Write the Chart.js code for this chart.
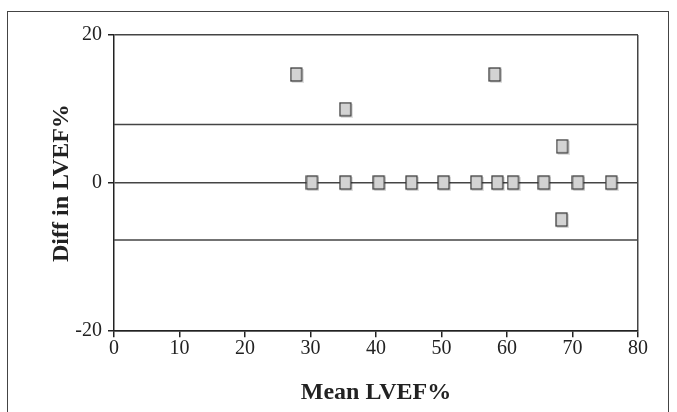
<!DOCTYPE html>
<html>
<head>
<meta charset="utf-8">
<script src="https://cdn.jsdelivr.net/npm/chart.js@4/dist/chart.umd.min.js"></script>
<style>
    html, body { margin: 0; padding: 0; background: #fff; }
    #wrap { position: relative; width: 677px; height: 412px; overflow: hidden; }
    #frame {
        position: absolute; left: 7px; top: 11px; width: 662px; height: 420px;
        border-left: 1.5px solid #444; border-top: 1.5px solid #444; border-right: 1.5px solid #444;
        box-sizing: border-box;
    }
    #chart { position: absolute; left: 0; top: 0; }
</style>
</head>
<body>
<div id="wrap">
    <div id="frame"></div>
    <canvas id="chart" width="677" height="412"></canvas>
</div>
<script>
// Bland-Altman data
var meanLvef = [27.9, 35.4, 58.2, 68.5, 68.4, 30.3, 35.4, 40.5, 45.5, 50.4, 55.4, 58.6, 61.0, 65.7, 70.9, 76.0];
var diffLvef = [14.6, 9.9, 14.6, 4.9, -5.0, 0, 0, 0, 0, 0, 0, 0, 0, 0, 0, 0];

// limits of agreement
var upperLimit = 7.9;
var lowerLimit = -7.7;

var xTicks = [0, 10, 20, 30, 40, 50, 60, 70, 80];
var yTicks = [-20, 0, 20];

var lineColor = '#444';
var serif = "'Liberation Serif', 'Times New Roman', serif";

// marker: light grey box with dark edge, a bit taller than wide
function makeMarker() {
    var c = document.createElement('canvas');
    c.width = 14;
    c.height = 16;
    var g = c.getContext('2d');
    g.fillStyle = 'rgba(0,0,0,0.12)';
    g.fillRect(2, 2, 12, 14);
    g.fillStyle = '#d3d3d3';
    g.fillRect(1, 1, 11, 13);
    g.strokeStyle = '#333';
    g.lineWidth = 1.2;
    g.strokeRect(1, 1, 11, 13);
    return c;
}

var points = meanLvef.map(function (m, i) {
    return { x: m, y: diffLvef[i] };
});

var ctx = document.getElementById('chart');

new Chart(ctx, {
    type: 'scatter',
    data: {
        datasets: [{
            label: 'Diff',
            data: points,
            pointStyle: makeMarker(),
            pointRadius: 7,
            order: 0
        }, {
            type: 'line',
            label: 'Upper',
            data: [{ x: xTicks[0], y: upperLimit }, { x: xTicks[xTicks.length - 1], y: upperLimit }],
            borderColor: lineColor,
            borderWidth: 1.5,
            pointRadius: 0,
            order: 1
        }, {
            type: 'line',
            label: 'Lower',
            data: [{ x: xTicks[0], y: lowerLimit }, { x: xTicks[xTicks.length - 1], y: lowerLimit }],
            borderColor: lineColor,
            borderWidth: 1.5,
            pointRadius: 0,
            order: 1
        }]
    },
    options: {
        responsive: false,
        animation: false,
        layout: {
            padding: { left: 47, right: 39, top: 35, bottom: 5 }
        },
        plugins: {
            legend: { display: false },
            tooltip: { enabled: false }
        },
        scales: {
            x: {
                type: 'linear',
                min: 0,
                max: 80,
                afterBuildTicks: function (axis) {
                    axis.ticks = xTicks.map(function (v) { return { value: v }; });
                },
                border: { display: true, color: '#222', width: 1.5 },
                grid: {
                    color: function (c) { return c.tick && c.tick.value === 80 ? lineColor : 'rgba(0,0,0,0)'; },
                    lineWidth: 1.5,
                    tickColor: '#222',
                    tickLength: 6,
                    drawTicks: true
                },
                ticks: {
                    color: '#222',
                    padding: 0,
                    maxRotation: 0,
                    font: { family: serif, size: 20 }
                },
                title: {
                    display: true,
                    text: 'Mean LVEF%',
                    color: '#222',
                    padding: { top: 17, bottom: 0 },
                    font: { family: serif, size: 24, weight: 'bold' }
                }
            },
            y: {
                type: 'linear',
                min: -20,
                max: 20,
                afterBuildTicks: function (axis) {
                    axis.ticks = yTicks.map(function (v) { return { value: v }; });
                },
                afterFit: function (axis) {
                    axis.width = 67;
                },
                border: { display: true, color: '#222', width: 1.5 },
                grid: {
                    color: lineColor,
                    lineWidth: 1.5,
                    tickColor: '#222',
                    tickLength: 6
                },
                ticks: {
                    color: '#222',
                    padding: 6,
                    font: { family: serif, size: 20 }
                },
                title: {
                    display: true,
                    text: 'Diff in LVEF%',
                    color: '#222',
                    padding: { top: 0, bottom: 0 },
                    font: { family: serif, size: 24, weight: 'bold' }
                }
            }
        }
    }
});
</script>
</body>
</html>
